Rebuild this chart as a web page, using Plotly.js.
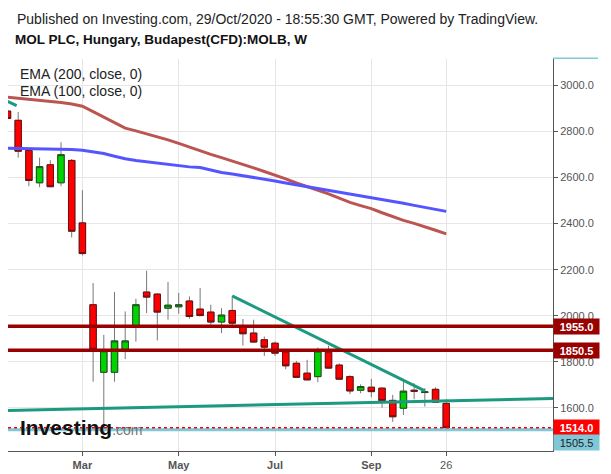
<!DOCTYPE html>
<html>
<head>
<meta charset="utf-8">
<script src="https://cdn.plot.ly/plotly-3.0.1.min.js"></script>
<style>html,body{margin:0;padding:0;background:#fff;}#chart{width:611px;height:474px;}</style>
</head>
<body>
<div id="chart"></div>
<script>
// ---- Data (weekly candles, MOL PLC, 2020) ----
const dates = ['2020-01-13','2020-01-20','2020-01-27','2020-02-03','2020-02-10','2020-02-17','2020-02-24',
  '2020-03-02','2020-03-09','2020-03-16','2020-03-23','2020-03-30','2020-04-06','2020-04-13','2020-04-20',
  '2020-04-27','2020-05-04','2020-05-11','2020-05-18','2020-05-25','2020-06-01','2020-06-08','2020-06-15',
  '2020-06-22','2020-06-29','2020-07-06','2020-07-13','2020-07-20','2020-07-27','2020-08-03','2020-08-10',
  '2020-08-17','2020-08-24','2020-08-31','2020-09-07','2020-09-14','2020-09-21','2020-09-28','2020-10-05',
  '2020-10-12','2020-10-19','2020-10-26'];
const openP  = [2888,2848,2717,2577,2655,2577,2674,2403,2048,1755,1755,1855,1951,2103,2094,2033,2039,2064,2029,2016,1973,2023,1951,1925,1896,1881,1843,1794,1751,1736,1842,1786,1736,1677,1690,1686,1633,1599,1677,1667,1681,1620];
const highP  = [2895,2884,2720,2686,2675,2753,2680,2545,2142,1917,2103,2019,2074,2196,2098,2147,2099,2084,2120,2048,2033,2084,1986,1983,1910,1888,1857,1804,1809,1862,1870,1794,1742,1703,1726,1690,1657,1714,1707,1686,1690,1638];
const lowP   = [2850,2686,2562,2558,2558,2562,2340,2262,1714,1490,1714,1812,1888,2012,1893,1983,2009,1987,1998,1961,1925,1949,1871,1884,1826,1826,1768,1731,1720,1712,1771,1723,1660,1664,1647,1601,1540,1570,1638,1606,1622,1509];
const closeP = [2856,2714,2587,2647,2560,2699,2367,2270,1855,1848,1891,1891,2048,2081,2016,2046,2048,1997,2001,1973,2003,1968,1922,1886,1864,1838,1783,1733,1722,1847,1773,1725,1674,1693,1671,1632,1562,1673,1673,1670,1625,1514];
const ema200 = [2948,2944,2940,2936,2932,2925,2919,2909,2886,2862,2836,2814,2802,2790,2777,2763,2748,2732,2714,2700,2686,2672,2657,2642,2626,2611,2594,2576,2560,2546,2529,2510,2492,2478,2465,2447,2429,2414,2401,2387,2371,2355];
const ema100 = [2727,2726,2726,2725,2725,2723,2721,2718,2711,2704,2692,2681,2674,2668,2662,2656,2650,2646,2643,2631,2622,2615,2608,2601,2593,2585,2576,2568,2560,2554,2547,2539,2531,2522,2513,2505,2496,2488,2479,2470,2461,2453];

// trend lines drawn on chart
const supportX = ['2020-01-06','2021-01-10'];
const supportY = [1588,1642];
const downX = ['2020-06-08','2020-10-12'];
const downY = [2086,1674];
const oldX = ['2020-01-13','2020-01-19'];
const oldY = [2930,2912];

// horizontal levels
const level1 = 1955.0;
const level2 = 1850.5;
const lastPrice = 1514.0;
const lowLine = 1505.5;

// axis ticks
const xTickVals = ['2020-03-02','2020-05-04','2020-07-06','2020-09-07','2020-10-26'];
const xTickText = ['<b>Mar</b>','<b>May</b>','<b>Jul</b>','<b>Sep</b>','26'];
const xRange = ['2020-01-13 08:00','2021-01-03 20:00'];
const yRange = [1413.4, 3114];

const FONT = 'Liberation Sans, Arial, sans-serif';
const teal = '#1b9a80';

const bodyHigh = openP.map((o,i)=>Math.max(o,closeP[i]));
const bodyLow = openP.map((o,i)=>Math.min(o,closeP[i]));

const traces = [
  {type:'scatter', mode:'lines', x:dates, y:ema200, line:{color:'#bb5551', width:3}, hoverinfo:'skip', showlegend:false},
  {type:'scatter', mode:'lines', x:dates, y:ema100, line:{color:'#5555ff', width:3}, hoverinfo:'skip', showlegend:false},
  {type:'candlestick', x:dates, open:openP, high:highP, low:lowP, close:closeP, showlegend:false, hoverinfo:'skip',
    increasing:{line:{color:'#777777', width:1}, fillcolor:'#00d400'},
    decreasing:{line:{color:'#777777', width:1}, fillcolor:'#ff0000'}},
  {type:'candlestick', x:dates, open:openP, high:bodyHigh, low:bodyLow, close:closeP, showlegend:false, hoverinfo:'skip',
    increasing:{line:{color:'#1f4f1f', width:1}, fillcolor:'#00d400'},
    decreasing:{line:{color:'#6b1010', width:1}, fillcolor:'#ff0000'}},
  {type:'scatter', mode:'lines', x:supportX, y:supportY, line:{color:teal, width:3}, hoverinfo:'skip', showlegend:false},
  {type:'scatter', mode:'lines', x:downX, y:downY, line:{color:teal, width:3}, hoverinfo:'skip', showlegend:false},
  {type:'scatter', mode:'lines', x:oldX, y:oldY, line:{color:teal, width:3}, hoverinfo:'skip', showlegend:false}
];

function priceLabel(v, bg, fg, yshift){
  return {xref:'paper', x:1, xanchor:'left', yref:'y', y:v, yanchor:'middle', yshift:yshift||0,
    text: fg === '#ffffff' ? '<b>'+v.toFixed(1)+'</b>' : v.toFixed(1), showarrow:false,
    bgcolor:bg, width:43, height:13, borderpad:1, align:'center',
    font:{family:FONT, size:11, color:fg}};
}

const layout = {
  width:611, height:474,
  margin:{l:8, r:58, t:59, b:23, pad:0},
  paper_bgcolor:'#ffffff', plot_bgcolor:'#ffffff',
  font:{family:FONT, color:'#333'},
  showlegend:false,
  boxgap:0.25, boxgroupgap:0.2,
  title:{text:'<b>MOL PLC, Hungary, Budapest(CFD):MOLB, W</b>', xref:'container', yref:'container',
    x:15/611, xanchor:'left', y:1-39/474, yanchor:'middle', font:{family:FONT, size:13.5, color:'#111'}},
  xaxis:{type:'date', range:xRange, tickvals:xTickVals, ticktext:xTickText,
    showgrid:true, gridcolor:'#e6e6e6', gridwidth:1, zeroline:false,
    showline:true, linecolor:'#555', linewidth:1, ticks:'outside', ticklen:4, tickcolor:'#555',
    tickfont:{family:FONT, size:11, color:'#555'}, rangeslider:{visible:false}, fixedrange:true},
  yaxis:{side:'right', range:yRange, dtick:200, tick0:0, tickformat:'.1f',
    showgrid:true, gridcolor:'#e6e6e6', gridwidth:1, zeroline:false,
    showline:true, linecolor:'#555', linewidth:1, ticks:'outside', ticklen:4, tickcolor:'#555',
    tickfont:{family:FONT, size:11, color:'#555'}, fixedrange:true},
  shapes:[
    {type:'line', xref:'paper', x0:0, x1:1, yref:'y', y0:level1, y1:level1, line:{color:'#990000', width:3.5}, layer:'above'},
    {type:'line', xref:'paper', x0:0, x1:1, yref:'y', y0:level2, y1:level2, line:{color:'#990000', width:3.5}, layer:'above'},
    {type:'line', xref:'paper', x0:0, x1:1, yref:'y', y0:lowLine, y1:lowLine, line:{color:'#80c8d8', width:3}, layer:'above'},
    {type:'line', xref:'paper', x0:0, x1:1, yref:'y', y0:lastPrice, y1:lastPrice, line:{color:'#ff0000', width:1.5, dash:'dot'}, layer:'above'},
    {type:'line', xref:'paper', x0:1, x1:1+45/545, yref:'paper', y0:1.002, y1:1.002, line:{color:'#7ecbda', width:1.5}}
  ],
  annotations:[
    {xref:'paper', x:7/545, xanchor:'left', yref:'paper', y:(451-18.75)/392, yanchor:'middle', showarrow:false,
      text:'Published on Investing.com, 29/Oct/2020 - 18:55:30 GMT, Powered by TradingView.',
      font:{family:FONT, size:14, color:'#222'}},
    {xref:'paper', x:10/545, xanchor:'left', yref:'paper', y:(451-74)/392, yanchor:'middle', showarrow:false,
      text:'EMA (200, close, 0)', font:{family:FONT, size:14, color:'#222'}},
    {xref:'paper', x:10/545, xanchor:'left', yref:'paper', y:(451-91)/392, yanchor:'middle', showarrow:false,
      text:'EMA (100, close, 0)', font:{family:FONT, size:14, color:'#222'}},
    {xref:'paper', x:10/545, xanchor:'left', yref:'paper', y:(451-427)/392, yanchor:'middle', showarrow:false,
      text:'<b>Investing</b><span style="font-size:14px;color:#777">.com</span>',
      font:{family:FONT, size:21, color:'#111'}},
    priceLabel(level1, '#990000', '#ffffff', 0),
    priceLabel(level2, '#990000', '#ffffff', 0),
    priceLabel(lastPrice, '#ff0000', '#ffffff', 0),
    priceLabel(lowLine, '#80c8d8', '#222222', -13)
  ]
};

Plotly.newPlot('chart', traces, layout, {staticPlot:true, displayModeBar:false});
</script>
</body>
</html>
